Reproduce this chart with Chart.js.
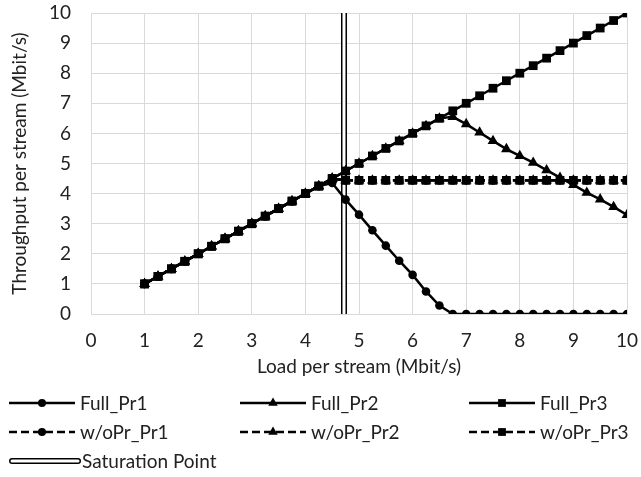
<!DOCTYPE html>
<html>
<head>
<meta charset="utf-8">
<script src="https://cdn.jsdelivr.net/npm/chart.js@4.4.1/dist/chart.umd.min.js"></script>
<style>
  html, body { margin: 0; padding: 0; background: #fff; }
  #wrap { width: 641px; height: 477px; }
</style>
</head>
<body>
<div id="wrap"><canvas id="chart" width="641" height="477"></canvas></div>
<script>
// load per stream (Mbit/s)
const loads = [1, 1.25, 1.5, 1.75, 2, 2.25, 2.5, 2.75, 3, 3.25, 3.5, 3.75, 4, 4.25, 4.5, 4.75,
  5, 5.25, 5.5, 5.75, 6, 6.25, 6.5, 6.75, 7, 7.25, 7.5, 7.75, 8, 8.25, 8.5, 8.75, 9, 9.25, 9.5, 9.75, 10];

// throughput per stream (Mbit/s)
const fullPr1 = [1, 1.25, 1.5, 1.75, 2, 2.25, 2.5, 2.75, 3, 3.25, 3.5, 3.75, 4, 4.25, 4.35, 3.8,
  3.3, 2.78, 2.27, 1.77, 1.3, 0.75, 0.28, 0, 0, 0, 0, 0, 0, 0, 0, 0, 0, 0, 0, 0, 0];
const fullPr2 = [1, 1.25, 1.5, 1.75, 2, 2.25, 2.5, 2.75, 3, 3.25, 3.5, 3.75, 4, 4.25, 4.5, 4.75,
  5, 5.25, 5.5, 5.75, 6, 6.25, 6.5, 6.55, 6.31, 6.03, 5.75, 5.48, 5.25, 5.03, 4.78, 4.53, 4.29, 4.03, 3.81, 3.56, 3.29];
const fullPr3 = [1, 1.25, 1.5, 1.75, 2, 2.25, 2.5, 2.75, 3, 3.25, 3.5, 3.75, 4, 4.25, 4.5, 4.75,
  5, 5.25, 5.5, 5.75, 6, 6.25, 6.5, 6.75, 7, 7.25, 7.5, 7.75, 8, 8.25, 8.5, 8.75, 9, 9.25, 9.5, 9.75, 10];
const woPr1 = [1, 1.25, 1.5, 1.75, 2, 2.25, 2.5, 2.75, 3, 3.25, 3.5, 3.75, 4, 4.25, 4.5, 4.44,
  4.44, 4.44, 4.44, 4.44, 4.44, 4.44, 4.44, 4.44, 4.44, 4.44, 4.44, 4.44, 4.44, 4.44, 4.44, 4.44, 4.44, 4.44, 4.44, 4.44, 4.44];
const woPr2 = [1, 1.25, 1.5, 1.75, 2, 2.25, 2.5, 2.75, 3, 3.25, 3.5, 3.75, 4, 4.25, 4.5, 4.44,
  4.44, 4.44, 4.44, 4.44, 4.44, 4.44, 4.44, 4.44, 4.44, 4.44, 4.44, 4.44, 4.44, 4.44, 4.44, 4.44, 4.44, 4.44, 4.44, 4.44, 4.44];
const woPr3 = [1, 1.25, 1.5, 1.75, 2, 2.25, 2.5, 2.75, 3, 3.25, 3.5, 3.75, 4, 4.25, 4.5, 4.44,
  4.44, 4.44, 4.44, 4.44, 4.44, 4.44, 4.44, 4.44, 4.44, 4.44, 4.44, 4.44, 4.44, 4.44, 4.44, 4.44, 4.44, 4.44, 4.44, 4.44, 4.44];

// saturation point marker
const satX = [4.72, 4.72];
const satY = [0, 10];

const xTicks = [0, 1, 2, 3, 4, 5, 6, 7, 8, 9, 10];
const yTicks = [0, 1, 2, 3, 4, 5, 6, 7, 8, 9, 10];

const FONT = 'Lato';
const TXT = '#222';
const GRID = '#d9d9d9';

function pts(xs, ys) {
  return xs.map((x, i) => ({ x: x, y: ys[i] }));
}

function series(label, ys, style, dashed) {
  return {
    label: label,
    data: pts(loads, ys),
    borderColor: '#000',
    backgroundColor: '#000',
    borderWidth: 2.5,
    borderDash: dashed ? [8, 4] : [],
    pointStyle: style,
    pointRadius: style === 'circle' ? 4.3 : 6.2,
    pointBorderWidth: 0,
    pointBackgroundColor: '#000',
    tension: 0,
    order: dashed ? 1 : 0
  };
}

const datasets = [
  series('Full_Pr1', fullPr1, 'circle', false),
  series('Full_Pr2', fullPr2, 'triangle', false),
  series('Full_Pr3', fullPr3, 'rect', false),
  series('w/oPr_Pr1', woPr1, 'circle', true),
  series('w/oPr_Pr2', woPr2, 'triangle', true),
  series('w/oPr_Pr3', woPr3, 'rect', true),
  {
    label: 'Saturation Point',
    data: pts(satX, satY),
    borderColor: '#000',
    borderWidth: 6,
    pointRadius: 0,
    order: 3
  },
  {
    label: 'sat_inner',
    data: pts(satX, satY),
    borderColor: '#fff',
    borderWidth: 3,
    pointRadius: 0,
    order: 2
  }
];

// excel-like legend in a 3 column grid
const gridLegend = {
  id: 'gridLegend',
  afterDraw(chart) {
    const ctx = chart.ctx;
    const cols = [9, 240, 469];
    const rows = [403, 432, 461];
    const symW = 66;
    ctx.save();
    ctx.font = '19px ' + FONT;
    ctx.fillStyle = TXT;
    ctx.textBaseline = 'middle';
    chart.data.datasets.forEach((ds, i) => {
      if (ds.label === 'sat_inner') return;
      const x = cols[i % 3];
      const y = rows[Math.floor(i / 3)];
      if (ds.label === 'Saturation Point') {
        ctx.lineCap = 'round';
        ctx.strokeStyle = '#000';
        ctx.lineWidth = 6;
        ctx.beginPath(); ctx.moveTo(x + 3, y); ctx.lineTo(x + 69, y); ctx.stroke();
        ctx.strokeStyle = '#fff';
        ctx.lineWidth = 3;
        ctx.beginPath(); ctx.moveTo(x + 3, y); ctx.lineTo(x + 69, y); ctx.stroke();
        ctx.fillStyle = TXT;
        ctx.fillText(ds.label, x + 73, y + 1);
        return;
      }
      ctx.lineCap = 'butt';
      ctx.strokeStyle = '#000';
      ctx.lineWidth = 2.5;
      ctx.setLineDash(ds.borderDash);
      ctx.beginPath(); ctx.moveTo(x, y); ctx.lineTo(x + symW, y); ctx.stroke();
      ctx.setLineDash([]);
      ctx.fillStyle = '#000';
      Chart.helpers.drawPoint(ctx, {
        pointStyle: ds.pointStyle,
        radius: ds.pointStyle === 'circle' ? 4 : 5.5,
        rotation: 0,
        borderWidth: 0
      }, x + symW / 2, y);
      ctx.fillStyle = TXT;
      ctx.fillText(ds.label, x + symW + 5, y + 1);
    });
    ctx.restore();
  }
};

new Chart(document.getElementById('chart'), {
  type: 'line',
  data: { datasets: datasets },
  options: {
    responsive: false,
    animation: false,
    layout: { padding: { left: 0, right: 14, top: 13, bottom: 97 } },
    plugins: {
      legend: { display: false },
      tooltip: { enabled: false }
    },
    scales: {
      x: {
        type: 'linear',
        min: 0,
        max: 10,
        afterBuildTicks: s => { s.ticks = xTicks.map(v => ({ value: v })); },
        afterFit: s => { s.height = 66; s.paddingLeft = 0; s.paddingRight = 0; },
        grid: { color: GRID, lineWidth: 1, drawTicks: false },
        border: { color: GRID, width: 1 },
        ticks: { color: TXT, font: { family: FONT, size: 19 }, padding: 15, maxRotation: 0 },
        title: {
          display: true,
          text: 'Load per stream (Mbit/s)',
          color: TXT,
          font: { family: FONT, size: 19 },
          padding: { top: 0, bottom: 2 }
        }
      },
      y: {
        type: 'linear',
        min: 0,
        max: 10,
        afterBuildTicks: s => { s.ticks = yTicks.map(v => ({ value: v })); },
        afterFit: s => { s.width = 91; s.paddingTop = 0; s.paddingBottom = 0; },
        grid: { color: GRID, lineWidth: 1, drawTicks: false },
        border: { color: GRID, width: 1 },
        ticks: { color: TXT, font: { family: FONT, size: 19 }, padding: 20 },
        title: {
          display: true,
          text: 'Throughput per stream (Mbit/s)',
          color: TXT,
          font: { family: FONT, size: 19 },
          padding: { top: 8, bottom: 8 }
        }
      }
    }
  },
  plugins: [gridLegend]
});
</script>
</body>
</html>
